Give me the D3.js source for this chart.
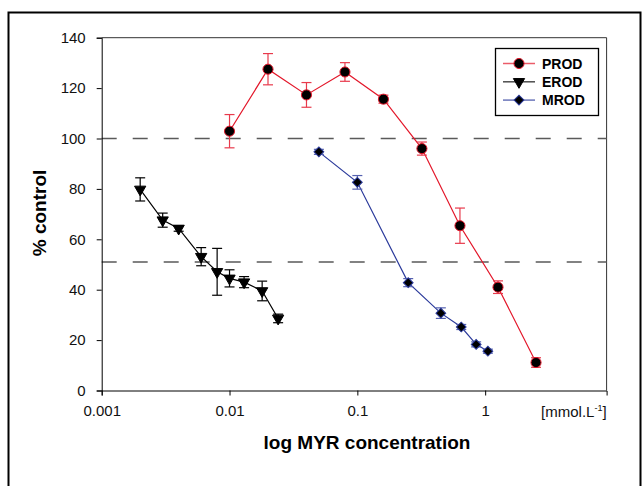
<!DOCTYPE html>
<html>
<head>
<meta charset="utf-8">
<script src="https://cdn.jsdelivr.net/npm/d3@7"></script>
<style>
  body { margin: 0; background: #fff; }
  text { font-family: "Liberation Sans", Arial, sans-serif; }
</style>
</head>
<body>
<svg id="chart" width="644" height="486"></svg>
<script>
// data
const xTicks = [0.001, 0.01, 0.1, 1];
const xTickLabels = ["0.001", "0.01", "0.1", "1"];
const yTicks = [0, 20, 40, 60, 80, 100, 120, 140];
const refLines = [100, 51];

const prodConc = [0.01, 0.02, 0.04, 0.08, 0.16, 0.32, 0.635, 1.26, 2.5];
const prodVal = [102.9, 127.5, 117.3, 126.4, 115.6, 96.0, 65.4, 41.0, 11.1];
const prodErr = [6.6, 6.2, 4.9, 3.7, 1.6, 2.6, 7.0, 2.5, 1.9];

const erodConc = [0.002, 0.003, 0.004, 0.006, 0.008, 0.01, 0.013, 0.018, 0.024];
const erodVal = [79.8, 67.6, 64.3, 53.1, 47.1, 44.5, 43.0, 39.5, 28.6];
const erodErr = [4.6, 2.8, 1.1, 3.6, 9.3, 3.4, 2.2, 3.9, 1.7];

const mrodConc = [0.05, 0.1, 0.25, 0.45, 0.65, 0.85, 1.05];
const mrodVal = [94.7, 82.6, 42.8, 30.7, 25.2, 18.3, 15.6];
const mrodErr = [1.0, 2.7, 1.6, 2.1, 1.0, 1.0, 0.8];

const svg = d3.select("#chart");
const pLeft = 101.7, pRight = 606.6, pTop = 37.7, pBottom = 390.5;

const x = d3.scaleLog().domain([0.001, Math.pow(10, 0.95)]).range([pLeft, pRight]);
const y = d3.scaleLinear().domain([0, 140]).range([pBottom, pTop]);

// outer chart frame (bottom runs off the picture)
svg.append("rect")
  .attr("x", 8.5).attr("y", 12.5)
  .attr("width", 632).attr("height", 520)
  .attr("fill", "none").attr("stroke", "#000").attr("stroke-width", 2);

// plot frame
svg.append("path")
  .attr("d", `M${pLeft},${pTop}H${pRight}V${pBottom}`)
  .attr("fill", "none").attr("stroke", "#333").attr("stroke-width", 1);

// dashed reference lines
svg.selectAll(".ref")
  .data(refLines)
  .join("line")
  .attr("x1", pLeft).attr("x2", pRight)
  .attr("y1", d => y(d)).attr("y2", d => y(d))
  .attr("stroke", "#5a5a5a").attr("stroke-width", 1.6)
  .attr("stroke-dasharray", "15,16");

// axes
const xAxis = svg.append("g")
  .attr("transform", `translate(0,${pBottom})`)
  .call(d3.axisBottom(x).tickValues(xTicks).tickFormat((d, i) => xTickLabels[i]).tickSize(5).tickPadding(10));

const yAxis = svg.append("g")
  .attr("transform", `translate(${pLeft},0)`)
  .call(d3.axisLeft(y).tickValues(yTicks).tickSize(5).tickPadding(11));

[xAxis, yAxis].forEach(a => {
  a.select(".domain").attr("stroke", "#000");
  a.selectAll(".tick line").attr("stroke", "#000");
  a.selectAll(".tick text").attr("fill", "#111").style("font-size", "15px")
    .style("font-family", "'Liberation Sans', Arial, sans-serif");
});

// unit label in place of the last decade
const unit = svg.append("text")
  .attr("x", pRight).attr("y", pBottom + 26)
  .attr("text-anchor", "end")
  .style("font-size", "15px").attr("fill", "#111");
unit.append("tspan").text("[mmol.L");
unit.append("tspan").attr("dy", -6).style("font-size", "9px").text("-1");
unit.append("tspan").attr("dy", 6).text("]");

// axis titles
svg.append("text")
  .attr("x", 367).attr("y", 449)
  .attr("text-anchor", "middle")
  .style("font-size", "19px").style("font-weight", "bold")
  .text("log MYR concentration");

svg.append("text")
  .attr("transform", "translate(46,213) rotate(-90)")
  .attr("text-anchor", "middle")
  .style("font-size", "19px").style("font-weight", "bold")
  .text("% control");

const series = [
  { name: "PROD", conc: prodConc, val: prodVal, err: prodErr, color: "#e3172a", errColor: "#e83a4c", symbol: d3.symbolCircle, size: 80, rot: 0 },
  { name: "EROD", conc: erodConc, val: erodVal, err: erodErr, color: "#000", errColor: "#000", symbol: d3.symbolTriangle, size: 55, rot: 180 },
  { name: "MROD", conc: mrodConc, val: mrodVal, err: mrodErr, color: "#2b3a9b", errColor: "#5561b0", symbol: d3.symbolSquare, size: 48, rot: 45 }
];

const line = d3.line().x(d => x(d.c)).y(d => y(d.v));

function marker(sel, s, tx, ty) {
  sel.attr("d", d3.symbol().type(s.symbol).size(s.size)())
    .attr("transform", `translate(${tx},${ty}) rotate(${s.rot})`)
    .attr("fill", "#000")
    .attr("stroke", s.color)
    .attr("stroke-width", 1);
}

series.forEach(s => {
  const pts = s.conc.map((c, i) => ({ c, v: s.val[i], e: s.err[i] }));
  const g = svg.append("g");

  g.append("path")
    .datum(pts)
    .attr("d", line)
    .attr("fill", "none")
    .attr("stroke", s.color)
    .attr("stroke-width", 1.2);

  const eb = g.selectAll(".err").data(pts).join("g").attr("stroke", s.errColor).attr("stroke-width", 1.2);
  eb.append("line")
    .attr("x1", d => x(d.c)).attr("x2", d => x(d.c))
    .attr("y1", d => y(d.v - d.e)).attr("y2", d => y(d.v + d.e));
  eb.append("line")
    .attr("x1", d => x(d.c) - 5).attr("x2", d => x(d.c) + 5)
    .attr("y1", d => y(d.v + d.e)).attr("y2", d => y(d.v + d.e));
  eb.append("line")
    .attr("x1", d => x(d.c) - 5).attr("x2", d => x(d.c) + 5)
    .attr("y1", d => y(d.v - d.e)).attr("y2", d => y(d.v - d.e));

  g.selectAll(".pt").data(pts).join("path")
    .each(function (d) { marker(d3.select(this), s, x(d.c), y(d.v)); });
});

// legend
const lg = svg.append("g");
lg.append("rect")
  .attr("x", 495.5).attr("y", 48.5)
  .attr("width", 103).attr("height", 67)
  .attr("fill", "#fff").attr("stroke", "#000").attr("stroke-width", 1.3);

series.forEach((s, i) => {
  const ry = 63.5 + i * 18.3;
  lg.append("line")
    .attr("x1", 503).attr("x2", 535)
    .attr("y1", ry).attr("y2", ry)
    .attr("stroke", s.color).attr("stroke-width", 1.5).attr("stroke-opacity", 0.7);
  lg.append("path")
    .each(function () { marker(d3.select(this), s, 519, ry); });
  lg.append("text")
    .attr("x", 542).attr("y", ry)
    .attr("dy", "0.36em")
    .style("font-size", "14px").style("font-weight", "bold")
    .text(s.name);
});
</script>
</body>
</html>
